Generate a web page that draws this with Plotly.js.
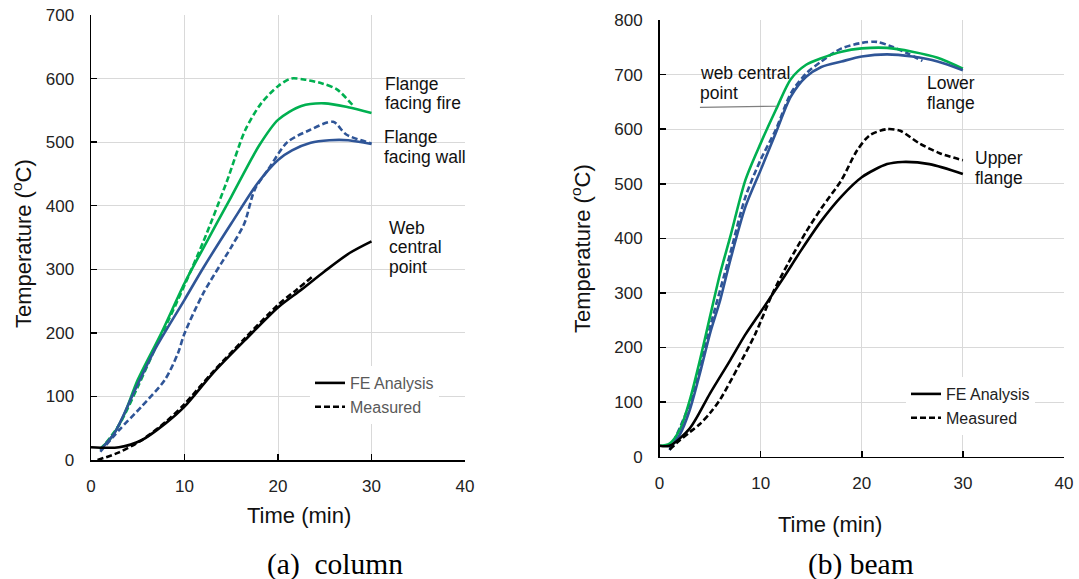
<!DOCTYPE html>
<html>
<head>
<meta charset="utf-8">
<script src="https://cdn.plot.ly/plotly-3.0.1.min.js"></script>
<style>html,body{margin:0;padding:0;background:#fff;}#chart{width:1079px;height:579px;}</style>
</head>
<body>
<div id="chart"></div>
<script>
// ---------- (a) column ----------
const colFireFE_t   = [1, 2, 3.5, 5, 7.5, 10, 12, 15, 18, 20, 22.5, 25, 27.5, 30];
const colFireFE_T   = [18, 32, 70, 126, 199, 278, 333, 414, 495, 535, 557, 561, 555, 546];
const colFireMeas_t = [1, 3, 5, 7, 9.3, 12, 14.5, 16.5, 18.2, 20, 21.4, 23, 24.8, 26.3, 28];
const colFireMeas_T = [16, 55, 115, 180, 252, 343, 437, 519, 561, 588, 600, 598, 592, 583, 558];
const colWallFE_t   = [1, 2.5, 4.7, 6.8, 10, 12, 15, 17.8, 20, 21.5, 23.5, 25.5, 27.5, 30];
const colWallFE_T   = [16, 42, 110, 173, 252, 302, 372, 435, 472, 487, 499, 503, 503, 497];
const colWallMeas_t = [1, 3, 5.4, 7.9, 9.3, 10, 12, 15, 16.4, 17.5, 19, 21, 23.4, 25.9, 27.3, 30];
const colWallMeas_T = [13, 47, 84, 126, 168, 199, 262, 335, 372, 425, 458, 500, 519, 532, 512, 498];
const colWebFE_t    = [0, 3, 5.4, 8, 10, 13, 16.5, 20, 22.5, 25, 27.7, 30];
const colWebFE_T    = [20, 20, 31, 58, 84, 136, 189, 240, 268, 297, 326, 344];
const colWebMeas_t  = [0.7, 3, 5.4, 8, 10, 13, 16.5, 20, 22, 23.8];
const colWebMeas_T  = [0, 12, 31, 60, 88, 138, 192, 244, 268, 290];

// ---------- (b) beam ----------
const beamWebFE_t     = [0, 1, 2, 3, 4, 5, 6, 7, 8.5, 10, 11.5, 13, 14.5, 16, 18, 20, 22.5, 25, 27.5, 30];
const beamWebFE_T     = [20, 24, 49, 104, 177, 257, 336, 403, 507, 574, 635, 692, 718, 730, 742, 748, 749, 742, 731, 711];
const beamLowerFE_t   = [1, 2, 3, 4, 5, 6, 7, 8.5, 10, 11.5, 13, 14.5, 16, 18, 20, 22.5, 25, 27.5, 30];
const beamLowerFE_T   = [15, 40, 86, 153, 226, 287, 360, 458, 525, 593, 660, 696, 714, 724, 733, 737, 733, 724, 708];
const beamLowerMeas_t = [1, 3, 5, 7, 8.5, 10, 11.5, 13, 14.5, 16, 18, 20, 21.5, 23, 24.5, 26];
const beamLowerMeas_T = [12, 98, 238, 373, 476, 544, 599, 666, 702, 724, 748, 758, 760, 751, 739, 725];
const beamUpperFE_t   = [0, 1, 3, 5, 7, 8.5, 10, 12.2, 14, 16, 18, 20, 22.5, 24, 26.7, 30];
const beamUpperFE_T   = [20, 20, 52, 116, 177, 224, 265, 326, 378, 432, 477, 512, 536, 540, 536, 518];
const beamUpperMeas_t = [1, 2, 3, 4, 5, 6, 7.8, 9.5, 11.2, 12.8, 14.5, 16, 18, 19.5, 20.8, 22.5, 23.8, 25.7, 27.7, 30];
const beamUpperMeas_T = [13, 30, 45, 60, 80, 105, 165, 226, 300, 357, 412, 455, 507, 560, 589, 600, 597, 574, 556, 543];

// ---------- text ----------
const legendNames = ["FE Analysis", "Measured"];
const xTitle = "Time (min)";
const yTitle = "Temperature (<sup>o</sup>C)";
const captions = ["(a)\u00a0 column", "(b) beam"];
const colLabels = [["Flange", "facing fire"], ["Flange", "facing wall"], ["Web", "central", "point"]];
const beamLabels = [["web central", "point"], ["Lower", "flange"], ["Upper", "flange"]];

const GREEN = "#00B050", BLUE = "#2F5597", BLACK = "#000000";
const DASH = "6px,3px";
const W = 1079, H = 579;
const px = x => x / W, py = y => 1 - y / H;
const FONT = "Liberation Sans, Arial, sans-serif";

function tr(x, y, color, dashed, xa, ya, opts) {
  return Object.assign({
    x: x, y: y, xaxis: xa, yaxis: ya, mode: "lines", type: "scatter",
    line: {color: color, width: 2.6, dash: dashed ? DASH : "solid", shape: "spline", smoothing: 0.8},
    showlegend: false, hoverinfo: "skip"
  }, opts || {});
}

const data = [
  tr(colFireMeas_t, colFireMeas_T, GREEN, true, "x", "y"),
  tr(colFireFE_t, colFireFE_T, GREEN, false, "x", "y"),
  tr(colWallMeas_t, colWallMeas_T, BLUE, true, "x", "y"),
  tr(colWallFE_t, colWallFE_T, BLUE, false, "x", "y"),
  tr(colWebFE_t, colWebFE_T, BLACK, false, "x", "y", {name: legendNames[0], showlegend: true, legend: "legend"}),
  tr(colWebMeas_t, colWebMeas_T, BLACK, true, "x", "y", {name: legendNames[1], showlegend: true, legend: "legend"}),

  tr(beamLowerMeas_t, beamLowerMeas_T, BLUE, true, "x2", "y2"),
  tr(beamWebFE_t, beamWebFE_T, GREEN, false, "x2", "y2"),
  tr(beamLowerFE_t, beamLowerFE_T, BLUE, false, "x2", "y2"),
  tr(beamUpperFE_t, beamUpperFE_T, BLACK, false, "x2", "y2", {name: legendNames[0], showlegend: true, legend: "legend2"}),
  tr(beamUpperMeas_t, beamUpperMeas_T, BLACK, true, "x2", "y2", {name: legendNames[1], showlegend: true, legend: "legend2"})
];

function xax(domain, anchor) {
  return {domain: domain, anchor: anchor, range: [0, 40], dtick: 10, tick0: 0,
    showline: true, linecolor: "#000", linewidth: 1.5, ticks: "inside", ticklen: 6, tickcolor: "#000", tickwidth: 1.5,
    showgrid: true, gridcolor: "#d9d9d9", gridwidth: 1, zeroline: false,
    tickfont: {family: FONT, size: 17, color: "#222"}, ticklabelstandoff: 10, fixedrange: true};
}
function yax(domain, anchor, max) {
  return {domain: domain, anchor: anchor, range: [0, max], dtick: 100, tick0: 0,
    showline: true, linecolor: "#000", linewidth: 1.5, ticks: "inside", ticklen: 6, tickcolor: "#000", tickwidth: 1.5,
    showgrid: true, gridcolor: "#d9d9d9", gridwidth: 1, zeroline: false,
    tickfont: {family: FONT, size: 17, color: "#222"}, ticklabelstandoff: 12, fixedrange: true};
}

const annotations = [];
function txt(text, x, y, opts) {
  annotations.push(Object.assign({text: text, x: px(x), y: py(y), xref: "paper", yref: "paper",
    xanchor: "left", yanchor: "middle", showarrow: false,
    font: {family: FONT, size: 17.5, color: "#111"}}, opts || {}));
}
// series labels
const colLabelPos = [[383, 84], [382, 137], [387, 228]];
colLabels.forEach((lines, i) => lines.forEach((s, j) => txt(s, colLabelPos[i][0], colLabelPos[i][1] + j * 19.5)));
const beamLabelPos = [[698, 73], [925, 83], [973, 158]];
beamLabels.forEach((lines, i) => lines.forEach((s, j) => txt(s, beamLabelPos[i][0], beamLabelPos[i][1] + j * 20)));
// axis titles
const titleFont = {family: FONT, size: 22, color: "#111"};
txt(xTitle, 299, 515, {xanchor: "center", font: titleFont});
txt(xTitle, 830, 524, {xanchor: "center", font: titleFont});
txt(yTitle, 22, 244, {xanchor: "center", textangle: -90, font: titleFont});
txt(yTitle, 581, 249, {xanchor: "center", textangle: -90, font: titleFont});
// captions
const capFont = {family: "Liberation Serif, Times New Roman, serif", size: 29.5, color: "#000"};
txt(captions[0], 335, 564, {xanchor: "center", font: capFont});
txt(captions[1], 861, 564, {xanchor: "center", font: capFont});

const layout = {
  width: W, height: H, autosize: false,
  margin: {l: 0, r: 0, t: 0, b: 0},
  paper_bgcolor: "#fff", plot_bgcolor: "#fff",
  font: {family: FONT},
  xaxis: xax([px(91), px(465)], "y"),
  yaxis: yax([py(460), py(15)], "x", 700),
  xaxis2: xax([px(659.5), px(1064)], "y2"),
  yaxis2: yax([py(456.7), py(20)], "x2", 800),
  legend: {x: px(310), y: py(366), xanchor: "left", yanchor: "top", bgcolor: "#fff",
    font: {family: FONT, size: 16, color: "#595959"}, itemwidth: 30, tracegroupgap: 0},
  legend2: {x: px(906), y: py(377), xanchor: "left", yanchor: "top", bgcolor: "#fff",
    font: {family: FONT, size: 16, color: "#222"}, itemwidth: 30, tracegroupgap: 0},
  shapes: [{type: "line", xref: "x2", yref: "y2", x0: 4.0, y0: 640, x1: 11.6, y1: 642,
    line: {color: "#7f7f7f", width: 1.2}}],
  annotations: annotations
};

Plotly.newPlot("chart", data, layout, {displayModeBar: false, staticPlot: true});
</script>
</body>
</html>
